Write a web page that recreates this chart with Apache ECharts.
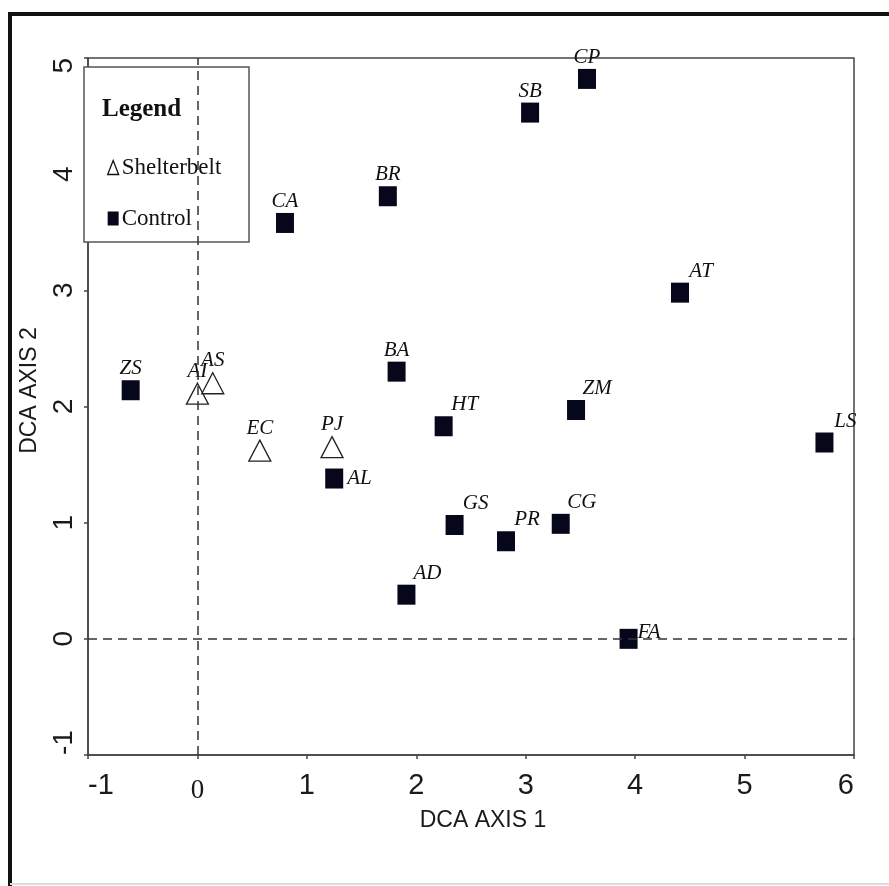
<!DOCTYPE html>
<html>
<head>
<meta charset="utf-8">
<script src="https://cdn.jsdelivr.net/npm/echarts@6/dist/echarts.min.js"></script>
<style>
html,body{margin:0;padding:0;background:#fff;}
#chart{width:889px;height:886px;}
</style>
</head>
<body>
<div id="chart"></div>
<script>
// ---- data ----
const shelterbeltNames = ['AI', 'AS', 'EC', 'PJ'];
const shelterbeltX = [0.00, 0.14, 0.57, 1.23];
const shelterbeltY = [2.08, 2.17, 1.59, 1.62];

const controlNames = ['ZS', 'AL', 'BA', 'HT', 'GS', 'PR', 'CG', 'AD', 'FA', 'ZM', 'LS', 'AT', 'CA', 'BR', 'SB', 'CP'];
const controlX = [-0.61, 1.25, 1.82, 2.25, 2.35, 2.82, 3.32, 1.91, 3.94, 3.46, 5.73, 4.41, 0.80, 1.74, 3.04, 3.56];
const controlY = [2.14, 1.38, 2.30, 1.83, 0.98, 0.84, 0.99, 0.38, 0.00, 1.97, 1.69, 2.98, 3.58, 3.81, 4.53, 4.82];

const xTicks = [-1, 0, 1, 2, 3, 4, 5, 6];
const yTicks = [-1, 0, 1, 2, 3, 4, 5];

// ---- label placement (style) ----
const labelPlacement = {
  AL: 'right', FA: 'rightUp',
  HT: 'topRight', ZM: 'topRight', AT: 'topRight', LS: 'topRight',
  GS: 'topRight', PR: 'topRight', CG: 'topRight', AD: 'topRight'
};
function labelFor(name) {
  const p = labelPlacement[name] || 'top';
  if (p === 'right') return { position: 'right', distance: 4, offset: [0, 0] };
  if (p === 'rightUp') return { position: 'right', distance: 0, offset: [0, -6] };
  if (p === 'topRight') return { position: 'top', distance: 1, offset: [21, 0] };
  return { position: 'top', distance: 1, offset: [0, 0] };
}
function buildData(names, xs, ys) {
  return names.map((n, i) => ({ name: n, value: [xs[i], ys[i]], label: labelFor(n) }));
}

const labelStyle = {
  show: true,
  formatter: p => p.name,
  fontFamily: 'Liberation Serif',
  fontStyle: 'italic',
  fontSize: 21,
  color: '#111'
};

const chart = echarts.init(document.getElementById('chart'), null, { renderer: 'canvas' });
chart.setOption({
  animation: false,
  backgroundColor: '#fff',
  grid: {
    left: 88, right: 35, top: 58, bottom: 131,
    show: true, borderColor: '#444', borderWidth: 1.5,
    containLabel: false, outerBoundsMode: 'none'
  },
  xAxis: {
    type: 'value', min: xTicks[0], max: xTicks[xTicks.length - 1], interval: 1,
    splitLine: { show: false },
    axisLine: { show: true, onZero: false, lineStyle: { color: '#444', width: 1.5 } },
    axisTick: { show: true, length: 4, lineStyle: { color: '#444', width: 1.5 } },
    axisLabel: {
      margin: 16, fontSize: 29, fontFamily: 'Liberation Sans', color: '#1a1a1a',
      alignMinLabel: 'left', alignMaxLabel: 'right',
      formatter: v => (v === 0 ? '{s|0}' : String(v)),
      rich: { s: { fontFamily: 'Liberation Serif', fontSize: 27, color: '#1a1a1a', padding: [6, 0, 0, 0] } }
    },
    name: 'DCA AXIS 1', nameLocation: 'middle', nameGap: 53,
    nameTextStyle: { fontSize: 23, fontFamily: 'Liberation Sans', color: '#1a1a1a', padding: [0, 0, 0, 24] }
  },
  yAxis: {
    type: 'value', min: yTicks[0], max: yTicks[yTicks.length - 1], interval: 1,
    splitLine: { show: false },
    axisLine: { show: true, onZero: false, lineStyle: { color: '#444', width: 1.5 } },
    axisTick: { show: true, length: 4, lineStyle: { color: '#444', width: 1.5 } },
    axisLabel: {
      rotate: 90, margin: 10, fontSize: 28, fontFamily: 'Liberation Sans', color: '#1a1a1a',
      alignMinLabel: 'left', alignMaxLabel: 'right'
    },
    name: 'DCA AXIS 2', nameLocation: 'middle', nameGap: 47,
    nameTextStyle: { fontSize: 23, fontFamily: 'Liberation Sans', color: '#1a1a1a', padding: [0, 0, 0, 32] }
  },
  legend: {
    show: true, orient: 'vertical', left: 102, top: 151, z: 10,
    itemGap: 28, itemWidth: 11, itemHeight: 14,
    selectedMode: false,
    textStyle: { fontFamily: 'Liberation Serif', fontSize: 23, color: '#111', padding: [0, 0, 0, -2] },
    data: [
      { name: 'Shelterbelt', icon: 'triangle', itemStyle: { color: '#fff', borderColor: '#111', borderWidth: 1.3 } },
      { name: 'Control', icon: 'rect', itemStyle: { color: '#07071c' } }
    ]
  },
  graphic: [
    { type: 'rect', shape: { x: 84, y: 67, width: 165, height: 175 }, z: 5,
      style: { fill: '#fff', stroke: '#555', lineWidth: 1.5 } },
    { type: 'text', x: 102, y: 110, z: 6,
      style: { text: 'Legend', font: 'bold 25px "Liberation Serif"', fill: '#111', verticalAlign: 'middle' } },
    { type: 'polyline', z: 7, shape: { points: [[10, 886], [10, 14], [889, 14]] },
      style: { stroke: '#111', lineWidth: 4, fill: null } },
    { type: 'line', z: 7, shape: { x1: 10, y1: 884, x2: 889, y2: 884 },
      style: { stroke: '#ddd', lineWidth: 2 } }
  ],
  series: [
    {
      name: 'Control', type: 'scatter', z: 3,
      symbol: 'rect', symbolSize: [18, 20],
      itemStyle: { color: '#07071c', opacity: 1 },
      label: labelStyle,
      data: buildData(controlNames, controlX, controlY),
      markLine: {
        silent: true, symbol: 'none', animation: false,
        label: { show: false },
        lineStyle: { type: [9, 6], color: '#333', width: 1.5 },
        data: [{ xAxis: 0 }, { yAxis: 0 }]
      }
    },
    {
      name: 'Shelterbelt', type: 'scatter', z: 3,
      symbol: 'triangle', symbolSize: [22, 21], symbolOffset: [0, -3.5],
      itemStyle: { color: '#fff', borderColor: '#222', borderWidth: 1.3, opacity: 1 },
      label: labelStyle,
      data: buildData(shelterbeltNames, shelterbeltX, shelterbeltY)
    }
  ]
});
</script>
</body>
</html>
